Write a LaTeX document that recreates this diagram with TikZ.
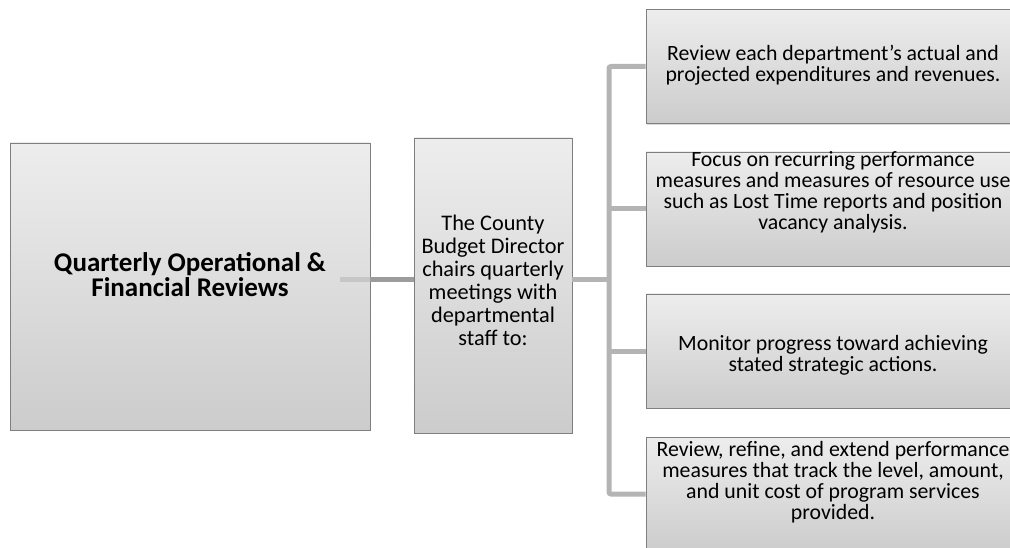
\documentclass[tikz,border=0pt]{standalone}
\usepackage{fontspec}
\setmainfont{Carlito}
\usetikzlibrary{shadows}
\definecolor{boxedge}{HTML}{7F7F7F}
\definecolor{linkgray}{HTML}{B4B4B4}
\definecolor{linkdark}{HTML}{9C9C9C}
\definecolor{linkpale}{HTML}{C6C6C6}
\tikzset{
  panel/.style={draw=boxedge, line width=0.9pt, top color=black!7, bottom color=black!20,
    drop shadow={shadow xshift=1.2pt, shadow yshift=-1.2pt, opacity=0.3}, inner sep=0pt},
  blurb/.style={align=center, inner sep=0pt, font=\fontsize{21.8}{21}\selectfont},
  link/.style={draw=linkgray, line width=5pt},
}
\begin{document}
\begin{tikzpicture}[x=1pt,y=-1pt]
\useasboundingbox (0,0) rectangle (1010,548);

% boxes
\node[panel, minimum width=360pt, minimum height=287pt] (review) at (190,286.5) {};
\node[panel, minimum width=158pt, minimum height=295pt] (chair) at (493,285.5) {};
\node[panel, minimum width=374pt, minimum height=114pt] (task1) at (833,66.5) {};
\node[panel, minimum width=374pt, minimum height=114pt] (task2) at (833,209) {};
\node[panel, minimum width=374pt, minimum height=114pt] (task3) at (833,351) {};
\node[panel, minimum width=374pt, minimum height=114pt] (task4) at (833,494) {};

% texts
\node[blurb, font=\bfseries\fontsize{27}{25}\selectfont] (reviewtxt) at (190,275) {Quarterly Operational \&\\Financial Reviews};
\node[blurb, font=\fontsize{22.3}{23}\selectfont] (chairtxt) at (493,280) {The County\\Budget Director\\chairs quarterly\\meetings with\\departmental\\staff to:};
\node[blurb] (task1txt) at (833,65) {Review each department’s actual and\\projected expenditures and revenues.};
\node[blurb] (task2txt) at (833,192.5) {Focus on recurring performance\\measures and measures of resource use\\such as Lost Time reports and position\\vacancy analysis.};
\node[blurb] (task3txt) at (833,355) {Monitor progress toward achieving\\stated strategic actions.};
\node[blurb] (task4txt) at (833,482) {Review, refine, and extend performance\\measures that track the level, amount,\\and unit cost of program services\\provided.};

% connectors
\coordinate (stub) at (340,280);
\coordinate (hub) at (609,280);
\coordinate (top) at (609,66.5);
\coordinate (bottom) at (609,494);
\path[draw=linkpale, line width=5pt] (stub) -- (review.east |- stub);
\path[draw=linkdark, line width=5pt] (review.east |- stub) -- (chair.west |- stub);
\path[link] (chair.east |- hub) -- (hub);
\path[link, rounded corners=2pt] (task1.west) -- (top) -- (bottom) -- (task4.west);
\path[link] (task2.west) -- (task2.west -| hub);
\path[link] (task3.west) -- (task3.west -| hub);
\end{tikzpicture}
\end{document}
